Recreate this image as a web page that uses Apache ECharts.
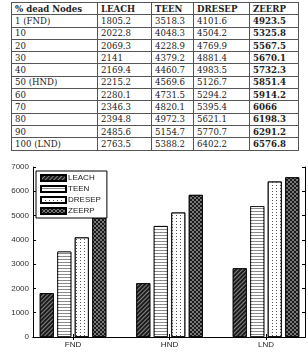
<!DOCTYPE html>
<html>
<head>
<meta charset="utf-8">
<script src="https://cdn.jsdelivr.net/npm/echarts@6/dist/echarts.min.js"></script>
<style>
  html, body { margin: 0; padding: 0; background: #fff; }
  #wrap { position: relative; width: 308px; height: 353px; overflow: hidden; }
  #tbl {
    position: absolute; left: 11px; top: 2px;
    border-collapse: collapse; table-layout: fixed;
    font-family: "DejaVu Serif", "Liberation Serif", serif;
    font-size: 8.6px; color: #222;
  }
  #tbl td, #tbl th {
    border: 1px solid #555; padding: 0 0 0 3px; height: 11.3px;
    line-height: 10px; text-align: left; white-space: nowrap; overflow: hidden;
  }
  #tbl th { font-weight: bold; }
  #tbl td.b { font-weight: bold; }
  #chart { position: absolute; left: 0; top: 155px; width: 308px; height: 198px; }
</style>
</head>
<body>
<div id="wrap">
  <table id="tbl"></table>
  <div id="chart"></div>
</div>
<script>
// 表格数据
const tableHead = ['% dead Nodes', 'LEACH', 'TEEN', 'DRESEP', 'ZEERP']
const deadNodes = ['1 (FND)', '10', '20', '30', '40', '50 (HND)', '60', '70', '80', '90', '100 (LND)']
const leachRounds = ['1805.2', '2022.8', '2069.3', '2141', '2169.4', '2215.2', '2280.1', '2346.3', '2394.8', '2485.6', '2763.5']
const teenRounds = ['3518.3', '4048.3', '4228.9', '4379.2', '4460.7', '4569.6', '4731.5', '4820.1', '4972.3', '5154.7', '5388.2']
const dresepRounds = ['4101.6', '4504.2', '4769.9', '4881.4', '4983.5', '5126.7', '5294.2', '5395.4', '5621.1', '5770.7', '6402.2']
const zeerpRounds = ['4923.5', '5325.8', '5567.5', '5670.1', '5732.3', '5851.4', '5914.2', '6066', '6198.3', '6291.2', '6576.8']
const colWidths = [86, 54, 42, 56, 49]

// 柱状图数据
const categories = ['FND', 'HND', 'LND']
const leach = [1805.2, 2215.2, 2830]
const teen = [3518.3, 4569.6, 5388.2]
const dresep = [4101.6, 5126.7, 6402.2]
const zeerp = [4923.5, 5851.4, 6576.8]
const yTicks = { min: 0, max: 7000, interval: 1000 }

// build table
let tbl = document.getElementById('tbl')
let html = '<colgroup>' + colWidths.map(w => '<col style="width:' + w + 'px">').join('') + '</colgroup>'
html += '<tr>' + tableHead.map(h => '<th>' + h + '</th>').join('') + '</tr>'
deadNodes.forEach((d, i) => {
  html += '<tr><td>' + d + '</td><td>' + leachRounds[i] + '</td><td>' + teenRounds[i] +
    '</td><td>' + dresepRounds[i] + '</td><td class="b">' + zeerpRounds[i] + '</td></tr>'
})
tbl.innerHTML = html

// chart
const chart = echarts.init(document.getElementById('chart'))
const pos = categories.map((c, i) => i + 1)
const toData = arr => arr.map((v, i) => [pos[i], v])

const patterns = {
  LEACH: { color: '#1c1c1c', decal: { symbol: 'rect', color: 'rgba(255,255,255,0.45)', dashArrayX: [1, 0], dashArrayY: [1, 2], rotation: -Math.PI / 4 } },
  TEEN: { color: '#8a8a8a', decal: { symbol: 'rect', symbolKeepAspect: false, color: '#fff', dashArrayX: [1, 0], dashArrayY: [2, 1], rotation: 0 } },
  DRESEP: { color: '#fff', decal: { symbol: 'rect', color: '#555', dashArrayX: [1, 3], dashArrayY: [1, 2], rotation: 0 } },
  ZEERP: { color: '#777', decal: { symbol: 'rect', color: '#1a1a1a', dashArrayX: [[1.5, 1.5], [0, 1.5, 1.5, 0]], dashArrayY: [1.5, 0], rotation: 0 } }
}

const mkSeries = (name, arr) => ({
  name,
  type: 'bar',
  data: toData(arr),
  barWidth: 14,
  barGap: '25%',
  itemStyle: {
    color: patterns[name].color,
    borderColor: '#000',
    borderWidth: 0.8,
    decal: patterns[name].decal
  },
  emphasis: { disabled: true }
})

const axisCommon = {
  axisLine: { show: true, lineStyle: { color: '#000', width: 1 } },
  axisTick: { show: true, inside: true, length: 3, lineStyle: { color: '#000' } },
  splitLine: { show: false }
}

chart.setOption({
  animation: false,
  grid: { left: 33, right: 3, top: 12, bottom: 16, outerBoundsMode: 'none', containLabel: false },
  legend: {
    orient: 'vertical',
    left: 36,
    top: 16,
    itemWidth: 25,
    itemHeight: 6,
    itemGap: 3,
    padding: [3, 6, 3, 4],
    borderColor: '#000',
    borderWidth: 1,
    backgroundColor: '#fff',
    icon: 'rect',
    textStyle: { fontSize: 8, color: '#222', fontFamily: 'Liberation Sans', padding: [0, 0, 0, -3] },
    data: ['LEACH', 'TEEN', 'DRESEP', 'ZEERP']
  },
  xAxis: [
    Object.assign({}, axisCommon, {
      type: 'value', position: 'bottom', min: 0.585, max: 3.404,
      axisTick: Object.assign({}, axisCommon.axisTick, { customValues: pos }),
      axisLabel: {
        customValues: pos, fontSize: 8, color: '#222', margin: 4,
        fontFamily: 'Liberation Sans', formatter: v => categories[Math.round(v) - 1]
      }
    }),
    Object.assign({}, axisCommon, {
      type: 'value', position: 'top', min: 0.585, max: 3.404,
      axisTick: Object.assign({}, axisCommon.axisTick, { customValues: pos }),
      axisLabel: { show: false }
    })
  ],
  yAxis: [
    Object.assign({}, axisCommon, yTicks, {
      type: 'value', position: 'left',
      name: 'Number of Rounds', nameLocation: 'middle', nameGap: 25,
      nameTextStyle: { fontSize: 6, color: '#444', fontFamily: 'Liberation Sans' },
      axisLabel: { fontSize: 8, color: '#333', margin: 4, fontFamily: 'Liberation Sans', formatter: v => String(v) }
    }),
    Object.assign({}, axisCommon, yTicks, {
      type: 'value', position: 'right', axisLabel: { show: false }
    })
  ],
  series: [
    mkSeries('LEACH', leach),
    mkSeries('TEEN', teen),
    mkSeries('DRESEP', dresep),
    mkSeries('ZEERP', zeerp)
  ]
})

window.addEventListener('resize', () => chart.resize())
</script>
</body>
</html>
